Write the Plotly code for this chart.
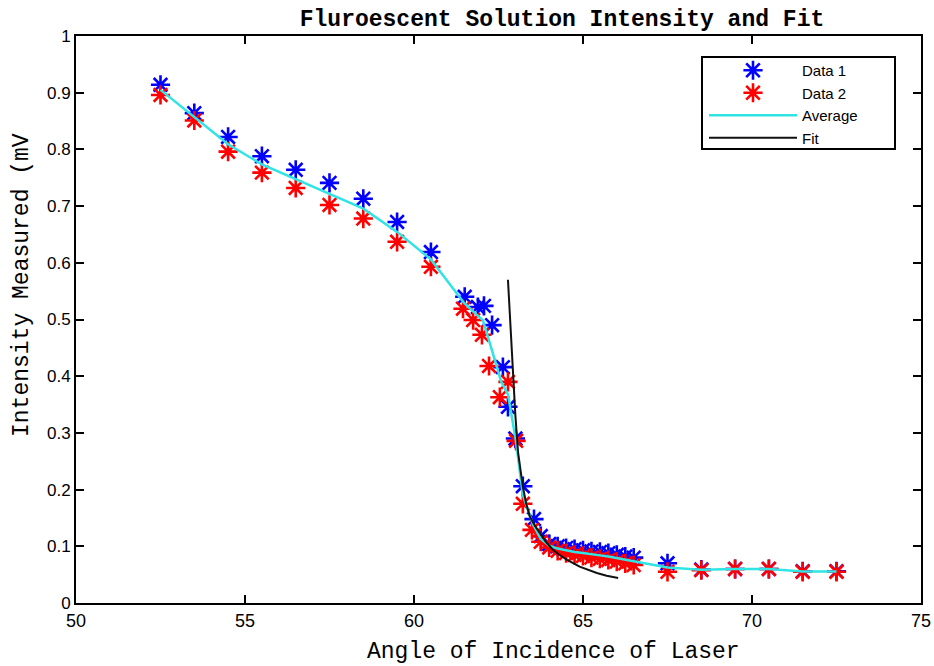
import plotly.graph_objects as go

# ---- data ----
angle1 = [52.5, 53.5, 54.5, 55.5, 56.5, 57.5, 58.5, 59.5, 60.5,
          61.5, 61.89, 62.07, 62.31, 62.63, 62.78, 63.0, 63.22, 63.55,
          63.75, 64.0, 64.25, 64.5, 64.75, 65.0, 65.25, 65.5, 65.75, 66.0, 66.25, 66.5,
          67.5, 68.5, 69.5, 70.5, 71.5, 72.5]
data1 = [0.914, 0.864, 0.822, 0.788, 0.764, 0.741, 0.713, 0.672, 0.619,
         0.540, 0.522, 0.524, 0.490, 0.416, 0.346, 0.290, 0.206, 0.148,
         0.118, 0.104, 0.100, 0.097, 0.095, 0.093, 0.091, 0.090, 0.088, 0.085, 0.082, 0.080,
         0.070, 0.059, 0.060, 0.060, 0.056, 0.056]

angle2 = [52.5, 53.5, 54.5, 55.5, 56.5, 57.5, 58.5, 59.5, 60.5,
          61.45, 61.75, 62.01, 62.22, 62.54, 62.78, 63.02, 63.22, 63.49,
          63.75, 64.0, 64.25, 64.5, 64.75, 65.0, 65.25, 65.5, 65.75, 66.0, 66.25, 66.5,
          67.5, 68.5, 69.5, 70.5, 71.5, 72.5]
data2 = [0.896, 0.851, 0.796, 0.759, 0.732, 0.702, 0.678, 0.637, 0.593,
         0.519, 0.499, 0.473, 0.418, 0.363, 0.390, 0.286, 0.175, 0.129,
         0.108, 0.098, 0.092, 0.088, 0.085, 0.083, 0.080, 0.078, 0.076, 0.073, 0.070, 0.067,
         0.055, 0.058, 0.060, 0.060, 0.055, 0.055]

fit_x = [62.78, 62.85, 62.93, 63.0, 63.08, 63.15, 63.22, 63.32, 63.43, 63.58,
         63.73, 63.9, 64.11, 64.3, 64.53, 64.9, 65.41, 65.7, 66.04]
fit_y = [0.57, 0.49, 0.41, 0.33, 0.265, 0.23, 0.205, 0.175, 0.152, 0.136,
         0.122, 0.108, 0.094, 0.085, 0.076, 0.064, 0.053, 0.048, 0.044]

x_ticks = [50, 55, 60, 65, 70, 75]
y_ticks = [0, 0.1, 0.2, 0.3, 0.4, 0.5, 0.6, 0.7, 0.8, 0.9, 1]
y_ticklabels = ["0", "0.1", "0.2", "0.3", "0.4", "0.5", "0.6", "0.7", "0.8", "0.9", "1"]

avg_x = [(a + b) / 2 for a, b in zip(angle1, angle2)]
avg_y = [(a + b) / 2 for a, b in zip(data1, data2)]

fig = go.Figure()
fig.add_trace(go.Scatter(x=angle1, y=data1, mode="markers", name="Data 1",
                         marker=dict(symbol="asterisk-open", size=16, color="#0000ff",
                                     line=dict(color="#0000ff", width=2.6))))
fig.add_trace(go.Scatter(x=angle2, y=data2, mode="markers", name="Data 2",
                         marker=dict(symbol="asterisk-open", size=16, color="#ff0000",
                                     line=dict(color="#ff0000", width=2.6))))
fig.add_trace(go.Scatter(x=avg_x, y=avg_y, mode="lines", name="Average",
                         line=dict(color="#30e4e4", width=2.5)))
fig.add_trace(go.Scatter(x=fit_x, y=fit_y, mode="lines", name="Fit",
                         line=dict(color="#111111", width=2)))

axis_common = dict(showline=True, linecolor="black", linewidth=2, mirror="allticks",
                   ticks="inside", ticklen=8, tickwidth=2, tickcolor="black",
                   showgrid=False, zeroline=False)

fig.update_xaxes(range=[50, 75], tickvals=x_ticks, ticktext=[str(v) for v in x_ticks],
                 tickfont=dict(family="Liberation Sans", size=18, color="black"),
                 **axis_common)
fig.update_yaxes(range=[0, 1], tickvals=y_ticks, ticktext=y_ticklabels,
                 tickfont=dict(family="Liberation Sans", size=17, color="black"),
                 **axis_common)

# legend frame (box drawn as a shape so it can be as wide as the reference's)
fig.add_shape(type="rect", xref="paper", yref="paper",
              x0=(702 - 76) / 845, x1=(895 - 76) / 845,
              y0=(603 - 149) / 567, y1=(603 - 57) / 567,
              line=dict(color="black", width=2), fillcolor="white", layer="above")

fig.update_layout(
    width=934, height=666,
    margin=dict(l=76, r=13, t=36, b=63, autoexpand=False),
    paper_bgcolor="white", plot_bgcolor="white",
    title=dict(text="<b>Fluroescent Solution Intensity and Fit</b>",
               x=562 / 934, xref="container", xanchor="center",
               y=1 - 18 / 666, yref="container", yanchor="middle",
               font=dict(family="Liberation Mono", size=23, color="black")),
    showlegend=True,
    legend=dict(x=(704 - 76) / 845, xref="paper", y=(603 - 54) / 567, yref="paper",
                xanchor="left", yanchor="top",
                bgcolor="rgba(0,0,0,0)", borderwidth=0,
                font=dict(family="Liberation Sans", size=15, color="black"),
                itemwidth=88, tracegroupgap=0),
    annotations=[
        dict(text="Angle of Incidence of Laser", xref="paper", yref="paper",
             x=(553 - 76) / 845, y=-49 / 567, xanchor="center", yanchor="middle",
             showarrow=False,
             font=dict(family="Liberation Mono", size=23, color="black")),
        dict(text="Intensity Measured (mV", xref="paper", yref="paper",
             x=(22 - 76) / 845, y=(603 - 285) / 567, xanchor="center", yanchor="middle",
             textangle=-90, showarrow=False,
             font=dict(family="Liberation Mono", size=23, color="black")),
    ],
)

fig.write_html("out.html")
